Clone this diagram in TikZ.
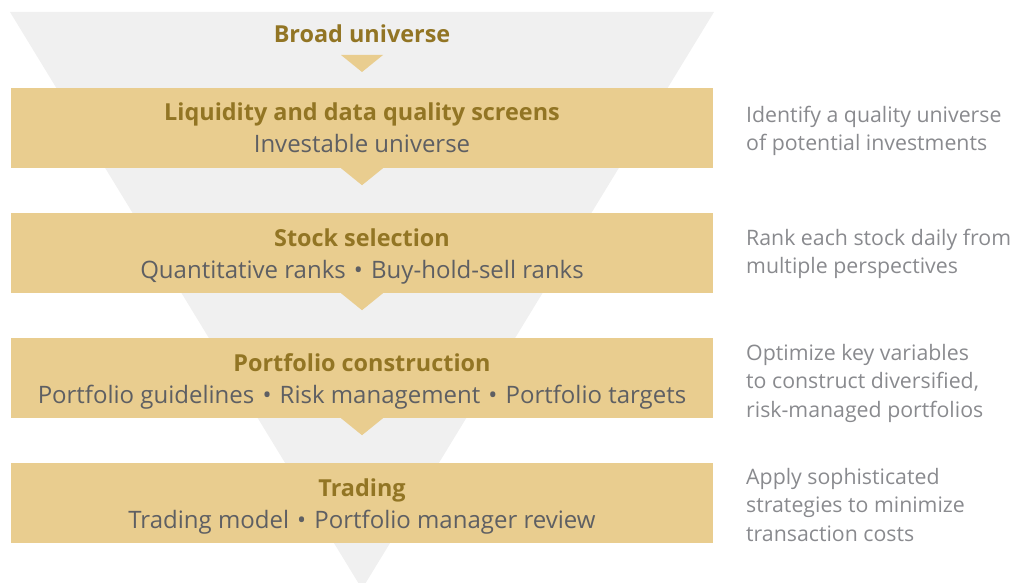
\documentclass[tikz,border=0pt]{standalone}
\usepackage{fontspec}
\setmainfont{Open Sans}
\definecolor{funnel}{HTML}{F0F0F0}
\definecolor{boxfill}{HTML}{E9CD8F}
\definecolor{titlecol}{HTML}{927524}
\definecolor{bodycol}{HTML}{5E5F63}
\definecolor{notecol}{HTML}{898A8E}
\newcommand{\sep}{\hspace{0.34em}\textbullet\hspace{0.34em}}
\newcommand{\firstline}{\rule{0pt}{20pt}}
\tikzset{
  stagebox/.style={fill=boxfill, draw=none, minimum width=702pt, minimum height=80pt, inner sep=0pt},
  titletext/.style={text=titlecol, font=\bfseries\fontsize{23.4}{27}\selectfont, inner sep=0pt, anchor=base},
  bodytext/.style={text=bodycol, font=\fontsize{24}{27}\selectfont, inner sep=0pt, anchor=base},
  notetext/.style={text=notecol, font=\fontsize{21.3}{28.7}\selectfont, inner sep=0pt, anchor=north west, align=left},
  pointer/.style={fill=boxfill, draw=none}
}
\begin{document}
\begin{tikzpicture}[x=1pt,y=-1pt]
\useasboundingbox (0,0) rectangle (1014,583);
\begin{scope}
\clip (0,0) rectangle (1014,583);
\fill[funnel] (10,12) -- (714,12) -- (362,589) -- cycle;
\end{scope}
% stage boxes
\node[stagebox] (b1) at (362,128) {};
\node[stagebox] (b2) at (362,253) {};
\node[stagebox] (b3) at (362,378) {};
\node[stagebox] (b4) at (362,503) {};
% top label
\node[titletext] (top) at (362,43) {Broad universe};
\coordinate (p0) at (362,55);
\fill[pointer] ([xshift=-21pt]p0) -- ([xshift=21pt]p0) -- ([yshift=-17pt]p0) -- cycle;
% pointers below boxes
\foreach \b in {b1,b2,b3} {
  \fill[pointer] ([xshift=-21pt]\b.south) -- ([xshift=21pt]\b.south) -- ([yshift=-17pt]\b.south) -- cycle;
}
% box texts
\node[titletext] (t1) at (362,121) {Liquidity and data quality screens};
\node[bodytext] (s1) at (362,153) {Investable universe};
\node[titletext] (t2) at (362,246) {Stock selection};
\node[bodytext] (s2) at (362,278) {Quantitative ranks\sep Buy-hold-sell ranks};
\node[titletext] (t3) at (362,371) {Portfolio construction};
\node[bodytext] (s3) at (362,403) {Portfolio guidelines\sep Risk management\sep Portfolio targets};
\node[titletext] (t4) at (362,496) {Trading};
\node[bodytext] (s4) at (362,528) {Trading model\sep Portfolio manager review};
% notes
\node[notetext] (n1) at (746,102) {\firstline Identify a quality universe\\of potential investments};
\node[notetext] (n2) at (746,225) {\firstline Rank each stock daily from\\multiple perspectives};
\node[notetext] (n3) at (746,340) {\firstline Optimize key variables\\to construct diversified,\\risk-managed portfolios};
\node[notetext] (n4) at (746,464) {\firstline Apply sophisticated\\strategies to minimize\\transaction costs};
\end{tikzpicture}
\end{document}
